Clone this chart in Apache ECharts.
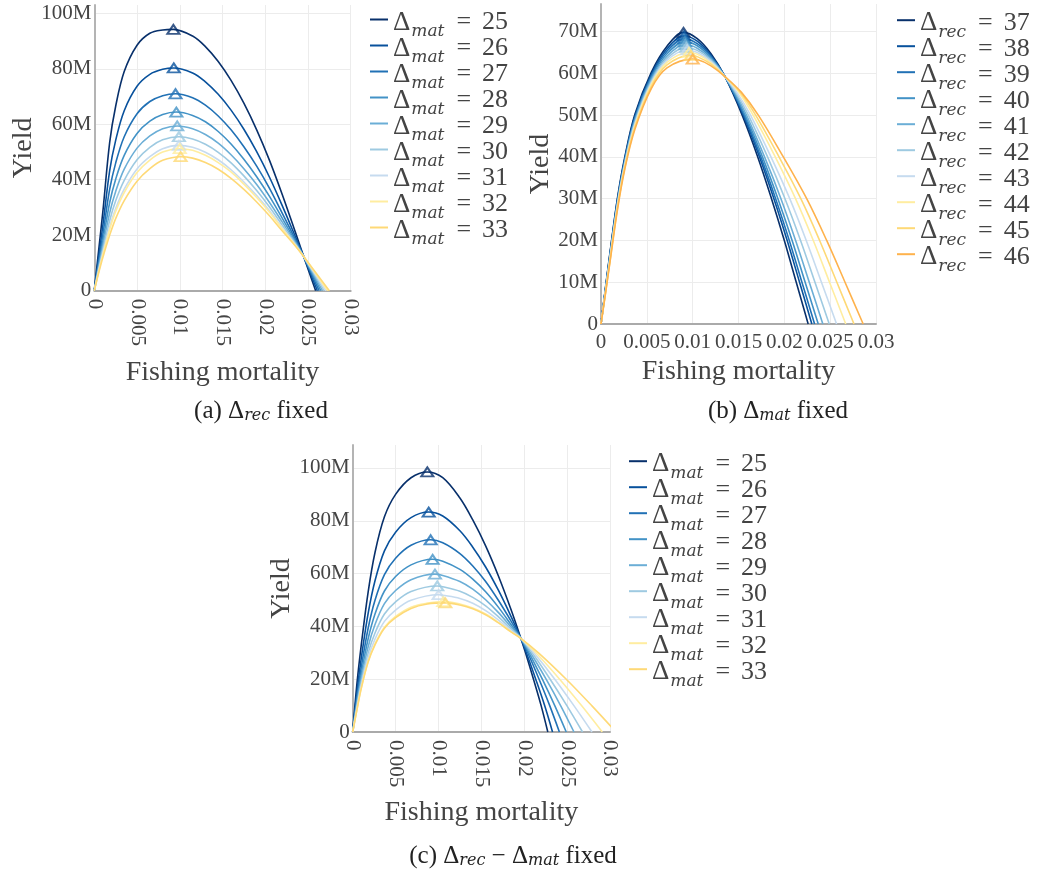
<!DOCTYPE html>
<html><head><meta charset="utf-8">
<script src="https://cdn.jsdelivr.net/npm/echarts@6/dist/echarts.min.js"></script>
<style>html,body{margin:0;padding:0;background:#fff}#chart{width:1038px;height:871px}</style>
</head><body><div id="chart"></div>
<script>
// ---------- Panel (a): Δrec fixed ----------
const labelsA = [25, 26, 27, 28, 29, 30, 31, 32, 33];
const curveA25 = [[0,0],[0.0005,14.3],[0.001,28.5],[0.0018,53.5],[0.0025,66.5],[0.0035,79],[0.005,88.5],[0.0065,92.8],[0.008,94],[0.00925,94.2],[0.0115,91.8],[0.013,88],[0.0145,82.6],[0.016,75.8],[0.0175,67.6],[0.019,58],[0.0205,47],[0.022,34.6],[0.0235,21.3],[0.0245,12.3],[0.0259,0]];
const curveA26 = [[0,0],[0.0005,11.9],[0.001,23.5],[0.0018,43.3],[0.0025,54.2],[0.0035,64.9],[0.005,73.7],[0.0065,78.0],[0.008,79.8],[0.0093,80.3],[0.0115,78.5],[0.013,75.3],[0.0145,70.8],[0.016,65.1],[0.0175,58.2],[0.019,50.1],[0.0205,40.9],[0.022,30.6],[0.0235,19.7],[0.0245,12.3],[0.0261,0]];
const curveA27 = [[0,0],[0.0005,10.3],[0.001,20.2],[0.0018,36.6],[0.0025,46.0],[0.0035,55.5],[0.005,63.8],[0.0065,68.2],[0.008,70.3],[0.0095,71.0],[0.0115,69.6],[0.013,66.9],[0.0145,63.0],[0.016,58.0],[0.0175,51.9],[0.019,44.9],[0.0205,36.9],[0.022,27.9],[0.0235,18.7],[0.0245,12.3],[0.0263,0]];
const curveA28 = [[0,0],[0.0005,9.1],[0.001,17.8],[0.0018,31.8],[0.0025,40.2],[0.0035,48.8],[0.005,56.7],[0.0065,61.1],[0.008,63.5],[0.0096,64.4],[0.0115,63.2],[0.013,60.9],[0.0145,57.4],[0.016,52.9],[0.0175,47.4],[0.019,41.1],[0.0205,34.0],[0.022,26.1],[0.0235,18.0],[0.0245,12.3],[0.0265,0]];
const curveA29 = [[0,0],[0.0005,8.2],[0.001,16.0],[0.0018,28.1],[0.0025,35.8],[0.0035,43.8],[0.005,51.4],[0.0065,55.8],[0.008,58.4],[0.0097,59.4],[0.0115,58.4],[0.013,56.3],[0.0145,53.2],[0.016,49.0],[0.0175,44.0],[0.019,38.3],[0.0205,31.8],[0.022,24.7],[0.0235,17.4],[0.0245,12.3],[0.0267,0]];
const curveA30 = [[0,0],[0.0005,7.6],[0.001,14.6],[0.0018,25.3],[0.0025,32.4],[0.0035,39.8],[0.005,47.2],[0.0065,51.7],[0.008,54.4],[0.0099,55.5],[0.0115,54.7],[0.013,52.8],[0.0145,49.9],[0.016,46.1],[0.0175,41.4],[0.019,36.1],[0.0205,30.2],[0.022,23.6],[0.0235,17.0],[0.0245,12.3],[0.0269,0]];
const curveA31 = [[0,0],[0.0005,7.0],[0.001,13.5],[0.0018,23.0],[0.0025,29.6],[0.0035,36.6],[0.005,43.9],[0.0065,48.3],[0.008,51.2],[0.0099,52.4],[0.0115,51.7],[0.013,49.9],[0.0145,47.2],[0.016,43.6],[0.0175,39.2],[0.019,34.3],[0.0205,28.8],[0.022,22.6],[0.0235,16.6],[0.0245,12.3],[0.0271,0]];
const curveA32 = [[0,0],[0.0005,6.8],[0.001,13.0],[0.0018,22.1],[0.0025,28.6],[0.0035,35.4],[0.005,42.6],[0.0065,47.1],[0.008,50.0],[0.0100,51.2],[0.0115,50.6],[0.013,48.8],[0.0145,46.2],[0.016,42.8],[0.0175,38.4],[0.019,33.6],[0.0205,28.3],[0.022,22.3],[0.0235,16.5],[0.0245,12.3],[0.0273,0]];
const curveA33 = [[0,0],[0.0005,6.3],[0.001,12],[0.0018,20],[0.0025,26],[0.0035,32.5],[0.005,39.5],[0.0065,44],[0.008,47],[0.0101,48.3],[0.0115,47.8],[0.013,46.2],[0.0145,43.8],[0.016,40.5],[0.0175,36.5],[0.019,32],[0.0205,27],[0.022,21.5],[0.0235,16.2],[0.0245,12.3],[0.0275,0]];
const peaksA = [[0.00925,94.2],[0.0093,80.3],[0.0095,71.0],[0.0096,64.4],[0.0097,59.4],[0.0099,55.5],[0.0099,52.4],[0.0100,51.2],[0.0101,48.3]];
const colorsA = ["#08306b","#08519c","#2171b5","#4292c6","#6baed6","#9ecae1","#c6dbef","#ffeda0","#fed976"];

// ---------- Panel (b): Δmat fixed ----------
const labelsB = [37, 38, 39, 40, 41, 42, 43, 44, 45, 46];
const curveB37 = [[0,0],[0.0005,8.9],[0.001,17.4],[0.0018,30.2],[0.0026,40],[0.0037,50.2],[0.0055,60.3],[0.0072,66.5],[0.009,69.8],[0.0105,68.3],[0.012,64.7],[0.01353,59.2],[0.0154,50],[0.0171,40],[0.0186,30],[0.0200,20],[0.0213,10],[0.0226,0]];
const curveB38 = [[0,0],[0.0005,8.7],[0.001,17.1],[0.0018,29.9],[0.0026,39.6],[0.0037,49.8],[0.0055,59.8],[0.0072,65.9],[0.00905,69.0],[0.0105,67.7],[0.012,64.3],[0.01353,59.2],[0.01552,50],[0.01729,40],[0.01886,30],[0.02031,20],[0.02166,10],[0.0230,0]];
const curveB39 = [[0,0],[0.0005,8.5],[0.001,16.9],[0.0018,29.5],[0.0026,39.3],[0.0037,49.4],[0.0055,59.4],[0.0072,65.3],[0.0091,68.3],[0.0105,67.1],[0.012,64.0],[0.01353,59.2],[0.01561,50],[0.01743,40],[0.01905,30],[0.02054,20],[0.02192,10],[0.0233,0]];
const curveB40 = [[0,0],[0.0005,8.4],[0.001,16.6],[0.0018,29.2],[0.0026,39.0],[0.0037,49.0],[0.0055,59.0],[0.0072,64.7],[0.00915,67.6],[0.0105,66.6],[0.012,63.7],[0.01353,59.2],[0.01572,50],[0.01761,40],[0.0193,30],[0.02085,20],[0.02227,10],[0.0237,0]];
const curveB41 = [[0,0],[0.0005,8.2],[0.001,16.4],[0.0018,28.9],[0.0026,38.7],[0.0037,48.6],[0.0055,58.5],[0.0072,64.1],[0.0092,66.9],[0.0105,66.0],[0.012,63.4],[0.01353,59.2],[0.0147,55.1],[0.01587,50],[0.01784,40],[0.01963,30],[0.02123,20],[0.02272,10],[0.0242,0]];
const curveB42 = [[0,0],[0.0005,8.1],[0.001,16.1],[0.0018,28.6],[0.0026,38.4],[0.0037,48.2],[0.0055,58.1],[0.0072,63.6],[0.0093,66.2],[0.0105,65.5],[0.012,63.1],[0.01353,59.2],[0.0148,55.1],[0.01607,50],[0.01817,40],[0.02007,30],[0.02177,20],[0.02334,10],[0.0249,0]];
const curveB43 = [[0,0],[0.0005,7.9],[0.001,15.9],[0.0018,28.4],[0.0026,38.1],[0.0037,47.8],[0.0055,57.7],[0.0072,63.1],[0.0094,65.6],[0.0105,65.0],[0.012,62.8],[0.01353,59.2],[0.0149,55.2],[0.01631,50],[0.01854,40],[0.02059,30],[0.02239,20],[0.02405,10],[0.0257,0]];
const curveB44 = [[0,0],[0.0005,7.8],[0.001,15.7],[0.0018,28.1],[0.0026,37.8],[0.0037,47.5],[0.0055,57.4],[0.0072,62.6],[0.0096,65.0],[0.0105,64.6],[0.012,62.5],[0.01353,59.2],[0.0151,55.3],[0.0166,50],[0.01901,40],[0.02122,30],[0.02316,20],[0.02493,10],[0.0267,0]];
const curveB45 = [[0,0],[0.0005,7.6],[0.001,15.4],[0.0018,27.8],[0.0026,37.5],[0.0037,47.1],[0.0055,56.9],[0.0072,62.0],[0.0098,64.3],[0.0105,64.0],[0.012,62.2],[0.01353,59.2],[0.0152,55.4],[0.01687,50],[0.01942,40],[0.0218,30],[0.02385,20],[0.02573,10],[0.0276,0]];
const curveB46 = [[0,0],[0.0005,7.4],[0.001,15.1],[0.0018,27.4],[0.0026,37.1],[0.0037,46.6],[0.0055,56.4],[0.0072,61.3],[0.0100,63.4],[0.0105,63.3],[0.012,61.8],[0.01353,59.2],[0.0153,55.5],[0.01716,50],[0.01989,40],[0.02244,30],[0.02462,20],[0.02662,10],[0.0286,0]];
const peaksB = [[0.009,69.8],[0.00905,69.0],[0.0091,68.3],[0.00915,67.6],[0.0092,66.9],[0.0093,66.2],[0.0094,65.6],[0.0096,65.0],[0.0098,64.3],[0.0100,63.4]];
const colorsB = ["#08306b","#08519c","#2171b5","#4292c6","#6baed6","#9ecae1","#c6dbef","#ffeda0","#fed976","#feb24c"];

// ---------- Panel (c): Δrec − Δmat fixed ----------
const labelsC = [25, 26, 27, 28, 29, 30, 31, 32, 33];
const curveC25 = [[0,0],[0.0005,18.5],[0.001,33],[0.0018,53],[0.0026,68],[0.0037,81.5],[0.005,90],[0.0068,96.3],[0.0087,98.5],[0.0105,96.3],[0.0125,88.6],[0.014,80.3],[0.0155,70.5],[0.017,59.0],[0.0185,46.0],[0.0196,35.5],[0.02015,30],[0.02108,20],[0.02197,10],[0.02275,0]];
const curveC26 = [[0,0],[0.0005,15.4],[0.001,28.0],[0.0018,44.9],[0.0026,57.3],[0.0037,68.6],[0.005,75.7],[0.0068,81.2],[0.00886,83.3],[0.0105,81.8],[0.0125,76.2],[0.014,70.0],[0.0155,62.5],[0.017,53.6],[0.0185,43.5],[0.0196,35.5],[0.02025,30],[0.02134,20],[0.02238,10],[0.0233,0]];
const curveC27 = [[0,0],[0.0005,13.3],[0.001,24.5],[0.0018,39.3],[0.0026,49.9],[0.0037,59.6],[0.005,65.8],[0.0068,70.7],[0.00909,72.8],[0.0105,71.7],[0.0125,67.6],[0.014,62.9],[0.0155,57.0],[0.017,49.8],[0.0185,41.8],[0.0196,35.5],[0.02041,30],[0.02173,20],[0.02297,10],[0.0241,0]];
const curveC28 = [[0,0],[0.0005,11.8],[0.001,22.0],[0.0018,35.3],[0.0026,44.7],[0.0037,53.4],[0.005,58.9],[0.0068,63.3],[0.00932,65.4],[0.0105,64.7],[0.0125,61.6],[0.014,57.9],[0.0155,53.1],[0.017,47.2],[0.0185,40.5],[0.0196,35.5],[0.02056,30],[0.02211,20],[0.02356,10],[0.0249,0]];
const curveC29 = [[0,0],[0.0005,10.7],[0.001,20.1],[0.0018,32.3],[0.0026,40.7],[0.0037,48.6],[0.005,53.6],[0.0068,57.7],[0.00959,59.8],[0.0105,59.3],[0.0125,57.0],[0.014,54.1],[0.0155,50.1],[0.017,45.2],[0.0185,39.6],[0.0196,35.5],[0.02073,30],[0.02255,20],[0.02424,10],[0.0258,0]];
const curveC30 = [[0,0],[0.0005,9.8],[0.001,18.6],[0.0018,29.9],[0.0026,37.5],[0.0037,44.7],[0.005,49.3],[0.0068,53.2],[0.00986,55.3],[0.0105,55.0],[0.0125,53.3],[0.014,51.0],[0.0155,47.8],[0.017,43.6],[0.0185,38.9],[0.0196,35.5],[0.02092,30],[0.02302,20],[0.02497,10],[0.0268,0]];
const curveC31 = [[0,0],[0.0005,9.1],[0.001,17.5],[0.0018,28.1],[0.0026,35.2],[0.0037,41.9],[0.005,46.2],[0.0068,49.9],[0.01002,52.0],[0.0105,51.8],[0.0125,50.6],[0.014,48.8],[0.0155,46.0],[0.017,42.4],[0.0185,38.3],[0.0196,35.5],[0.02113,30],[0.02356,20],[0.02579,10],[0.0279,0]];
const curveC32 = [[0,0],[0.0005,8.6],[0.001,16.7],[0.0018,26.8],[0.0026,33.4],[0.0037,39.7],[0.005,43.8],[0.0068,47.3],[0.0087,48.8],[0.01056,49.4],[0.0125,48.5],[0.014,47.0],[0.0155,44.7],[0.017,41.5],[0.0185,37.9],[0.0196,35.5],[0.02136,30],[0.02413,20],[0.02668,10],[0.0291,0]];
const curveC33 = [[0,0],[0.0005,8.5],[0.001,16.5],[0.0018,26.5],[0.0026,33],[0.0037,39.3],[0.005,43.3],[0.0068,46.8],[0.0087,48.5],[0.0108,48.9],[0.0125,48.1],[0.014,46.7],[0.0155,44.4],[0.017,41.3],[0.0185,37.8],[0.0196,35.5],[0.02166,30],[0.0249,20],[0.02787,10],[0.0307,0]];
const peaksC = [[0.0087,98.5],[0.00886,83.3],[0.00909,72.8],[0.00932,65.4],[0.00959,59.8],[0.00986,55.3],[0.01002,52.0],[0.01056,49.4],[0.0108,48.9]];
const colorsC = ["#08306b","#08519c","#2171b5","#4292c6","#6baed6","#9ecae1","#c6dbef","#ffeda0","#fed976"];

// axis ticks
const xTicks = [0, 0.005, 0.01, 0.015, 0.02, 0.025, 0.03];
const yTicksA = [0, 20, 40, 60, 80, 100];
const yTicksB = [0, 10, 20, 30, 40, 50, 60, 70];
const yTicksC = [0, 20, 40, 60, 80, 100];

const curvesA = [curveA25, curveA26, curveA27, curveA28, curveA29, curveA30, curveA31, curveA32, curveA33];
const curvesB = [curveB37, curveB38, curveB39, curveB40, curveB41, curveB42, curveB43, curveB44, curveB45, curveB46];
const curvesC = [curveC25, curveC26, curveC27, curveC28, curveC29, curveC30, curveC31, curveC32, curveC33];

const SERIF = "'Liberation Serif', 'Times New Roman', serif";
const TXT = '#444';
const GRIDC = '#ececec';

function splitColors(ticks) { return ticks.map(() => GRIDC).concat(['rgba(0,0,0,0)']); }

function xAxis(gi, rotate, nameGap) {
  return {
    type: 'value', gridIndex: gi, min: xTicks[0], max: xTicks[xTicks.length - 1], interval: xTicks[1] - xTicks[0],
    name: 'Fishing mortality', nameLocation: 'middle', nameGap,
    nameTextStyle: { fontFamily: SERIF, fontSize: 28, color: TXT },
    axisLine: { show: true, onZero: false, lineStyle: { color: '#aaaaaa', width: 2 } },
    axisTick: { show: false },
    axisLabel: { rotate, margin: 8, fontFamily: SERIF, fontSize: 21, color: TXT,
      formatter: v => v === 0 ? '0' : String(+v.toFixed(3)) },
    splitLine: { show: true, lineStyle: { color: splitColors(xTicks), width: 1 } }
  };
}
function yAxis(gi, ticks, max, nameGap) {
  return {
    type: 'value', gridIndex: gi, min: 0, max, interval: ticks[1] - ticks[0],
    name: 'Yield', nameLocation: 'middle', nameGap,
    nameTextStyle: { fontFamily: SERIF, fontSize: 28, color: TXT },
    axisLine: { show: true, lineStyle: { color: '#b4b4b4', width: 2 } },
    axisTick: { show: false },
    axisLabel: { margin: 3, showMaxLabel: false, fontFamily: SERIF, fontSize: 21, color: TXT,
      formatter: v => v === 0 ? '0' : (v + 'M') },
    splitLine: { show: true, lineStyle: { color: splitColors(ticks), width: 1 } }
  };
}

const series = [];
function addPanel(gi, curves, labels, sym, peaks, colors) {
  curves.forEach((c, i) => {
    series.push({
      type: 'line', name: 'Δ' + sym + ' = ' + labels[i], xAxisIndex: gi, yAxisIndex: gi,
      data: c, smooth: 0.35, showSymbol: false, symbol: 'none', color: colors[i],
      lineStyle: { width: 1.6, color: colors[i] }, clip: true, silent: true, z: 2
    });
  });
  series.push({
    type: 'scatter', xAxisIndex: gi, yAxisIndex: gi, symbol: 'triangle', symbolSize: [12, 9], z: 5, silent: true,
    data: peaks.map((p, i) => ({ value: p, itemStyle: { color: 'rgba(255,255,255,0)', borderColor: colors[i], borderWidth: 2 } }))
  });
}
addPanel(0, curvesA, labelsA, 'mat', peaksA, colorsA);
addPanel(1, curvesB, labelsB, 'rec', peaksB, colorsB);
addPanel(2, curvesC, labelsC, 'mat', peaksC, colorsC);

const legendRich = {
  d: { fontFamily: SERIF, fontSize: 27, lineHeight: 24, color: TXT, padding: [6, 0, 0, 0] },
  s: { fontFamily: "'DejaVu Serif', serif", fontStyle: 'italic', fontSize: 17, lineHeight: 24, color: TXT, padding: [24, 0, 0, 1] },
  q: { fontFamily: SERIF, fontSize: 26, lineHeight: 24, color: TXT, padding: [6, 11, 0, 12] },
  n: { fontFamily: SERIF, fontSize: 26, lineHeight: 24, color: TXT, padding: [6, 0, 0, 0] }
};
function legend(labels, sym, left, top) {
  return {
    orient: 'vertical', left, top, itemWidth: 18, itemHeight: 2, itemGap: -15, icon: 'rect',
    selectedMode: false,
    data: labels.map(l => 'Δ' + sym + ' = ' + l),
    formatter: name => { const m = name.match(/^Δ(\w+) = (\d+)$/); return '{d|Δ}{s|' + m[1] + '}{q|=}{n|' + m[2] + '}'; },
    textStyle: { rich: legendRich }
  };
}

const capRich = {
  t: { fontFamily: SERIF, fontSize: 25, color: '#222' },
  d: { fontFamily: SERIF, fontSize: 25, color: '#222' },
  s: { fontFamily: "'DejaVu Serif', serif", fontStyle: 'italic', fontSize: 16, color: '#222', padding: [10, 0, 0, 0] }
};
function caption(x, y, text) {
  return { type: 'text', x, y, silent: true,
    style: { text, rich: capRich, align: 'center', verticalAlign: 'middle', fill: '#222', font: '25px ' + SERIF } };
}

const option = {
  animation: false,
  backgroundColor: '#ffffff',
  grid: [
    { left: 94.3, top: 5, width: 256.4, height: 285.7 },
    { left: 601, top: 4, width: 275, height: 320 },
    { left: 352.7, top: 445, width: 257.3, height: 287 }
  ],
  xAxis: [xAxis(0, -90, 68), xAxis(1, 0, 34), xAxis(2, -90, 67)],
  yAxis: [yAxis(0, yTicksA, 103, 55), yAxis(1, yTicksB, 76.6, 44), yAxis(2, yTicksC, 108.7, 55)],
  legend: [legend(labelsA, 'mat', 365, -6), legend(labelsB, 'rec', 892, -5.3), legend(labelsC, 'mat', 624, 435.7)],
  graphic: [
    caption(261, 411, '{t|(a) }{d|Δ}{s|rec}{t| fixed}'),
    caption(778, 411, '{t|(b) }{d|Δ}{s|mat}{t| fixed}'),
    caption(513, 856, '{t|(c) }{d|Δ}{s|rec}{t| − }{d|Δ}{s|mat}{t| fixed}')
  ],
  series
};
const chart = echarts.init(document.getElementById('chart'), null, { renderer: 'canvas' });
chart.setOption(option);
</script>
</body></html>
